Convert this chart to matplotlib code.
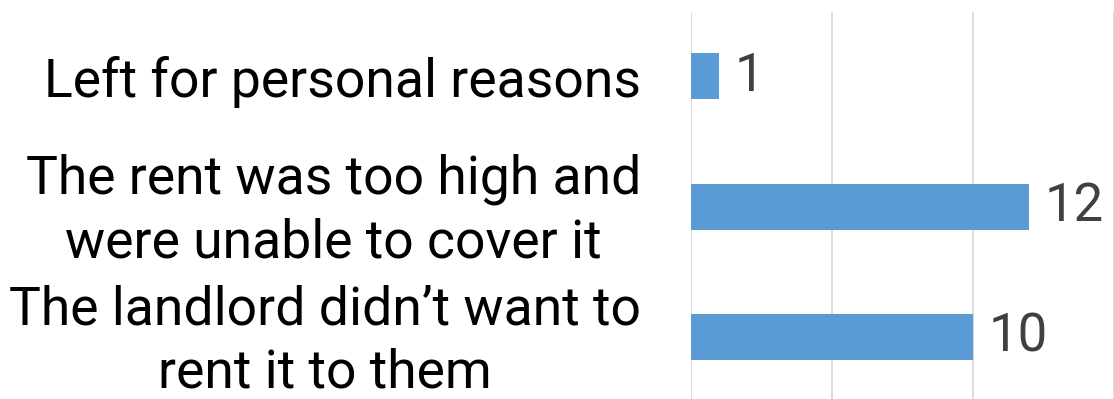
import matplotlib.pyplot as plt
from matplotlib.transforms import ScaledTranslation

# Reasons for leaving - horizontal bar chart
categorias = ["Left for personal reasons",
              "The rent was too high and\nwere unable to cover it",
              "The landlord didn\u2019t want to\nrent it to them"]
valores = [1, 12, 10]
ticks_x = [0, 5, 10, 15]

plt.rcParams['font.family'] = ['Roboto', 'DejaVu Sans']

fig = plt.figure(figsize=(11.14, 3.99), dpi=100)
ax = fig.add_axes([691 / 1114, 0, 1 - 691 / 1114, 1 - 12 / 399])

pos = list(range(len(categorias)))
ax.barh(pos, valores, height=0.353, color='#5B9BD5', zorder=3)

for p, v in zip(pos, valores):
    ax.text(v + 0.55, p, str(v), va='center', ha='left', fontsize=38,
            color='#404040', zorder=4)

ax.set_xlim(0, 14.74)
ax.set_ylim(2.476, -0.493)
ax.set_xticks(ticks_x)
ax.set_xticklabels([])
ax.tick_params(axis='x', length=0)
ax.grid(True, axis='x', color='#d9d9d9', linewidth=1.3, zorder=0)

ax.set_yticks(pos)
ax.set_yticklabels(categorias, fontsize=38.5, multialignment='center',
                   linespacing=1.3)
ax.tick_params(axis='y', length=0, pad=36)

# las etiquetas de dos líneas van un poco más arriba
# two-line labels sit slightly higher
for lbl in ax.get_yticklabels():
    if '\n' in lbl.get_text():
        lbl.set_transform(lbl.get_transform() +
                          ScaledTranslation(0, 0.07, fig.dpi_scale_trans))

for s in ax.spines.values():
    s.set_visible(False)

fig.savefig('out.png', dpi=100)
plt.close(fig)
